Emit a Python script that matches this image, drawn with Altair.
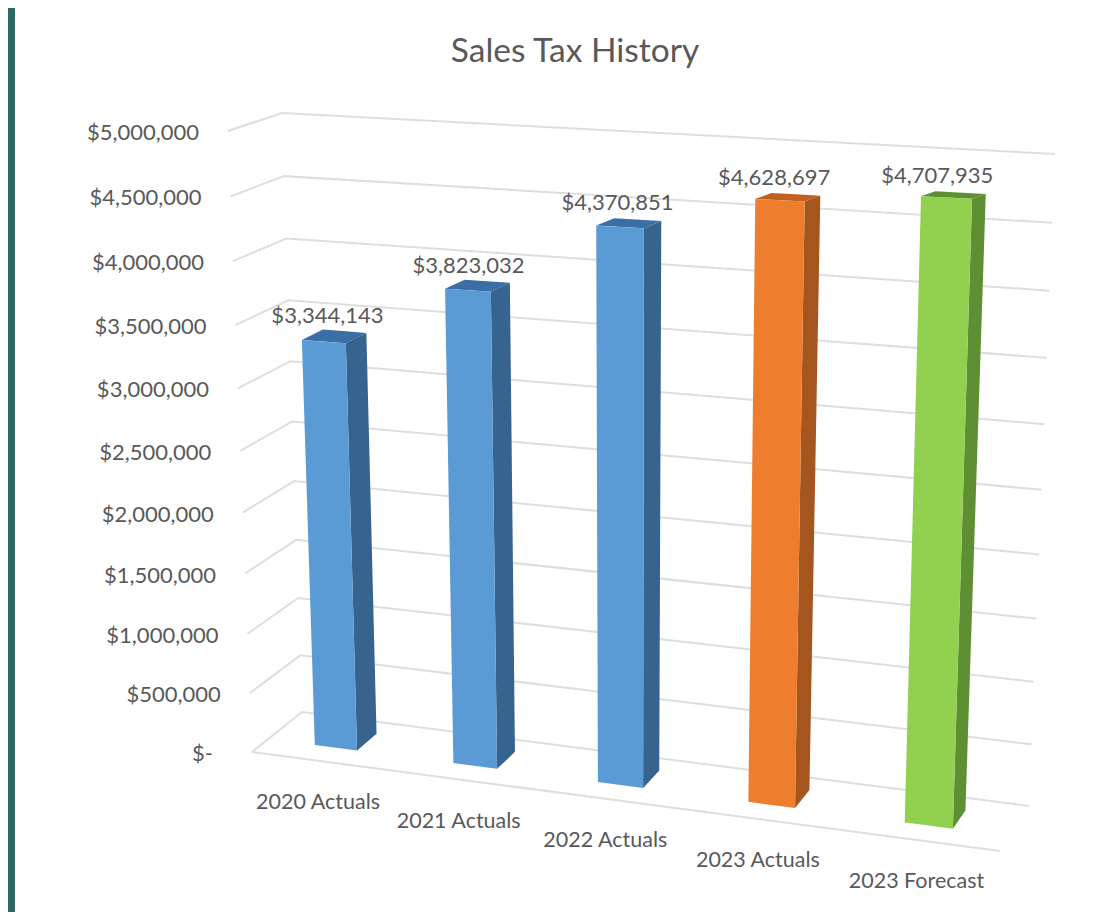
import altair as alt
import pandas as pd

categories = ["2020 Actuals", "2021 Actuals", "2022 Actuals", "2023 Actuals", "2023 Forecast"]
values = [3344143, 3823032, 4370851, 4628697, 4707935]
labels = ["$3,344,143", "$3,823,032", "$4,370,851", "$4,628,697", "$4,707,935"]
front_colors = ["#5B9BD5", "#5B9BD5", "#5B9BD5", "#EE7E2E", "#92D14F"]
side_colors = ["#36648F", "#36648F", "#36648F", "#A5551E", "#5F8F33"]
top_colors = ["#3A6FA5", "#3A6FA5", "#3A6FA5", "#C4601F", "#5F8F33"]
tick_values = [0, 500000, 1000000, 1500000, 2000000, 2500000, 3000000, 3500000, 4000000, 4500000, 5000000]
tick_labels = ["$-", "$500,000", "$1,000,000", "$1,500,000", "$2,000,000", "$2,500,000",
               "$3,000,000", "$3,500,000", "$4,000,000", "$4,500,000", "$5,000,000"]
VMAX = 5000000

# Corners of the perspective box: (across, depth) -> page position at value 0 and at the axis maximum
C0 = {"fl": (252, 752), "fr": (1000, 851), "bl": (302, 712), "br": (1029, 806)}
C1 = {"fl": (228, 131), "fr": (1023, 163), "bl": (282, 113), "br": (1055, 154)}
W, H = 1099, 904


def warp(t, k):
    return t - k * t * (1 - t)


def project(u, w, v):
    f = warp(v / VMAX, 0.06)
    out = []
    for a in (0, 1):
        p = [
            (1 - w) * ((1 - u) * C["fl"][a] + u * C["fr"][a]) + w * ((1 - u) * C["bl"][a] + u * C["br"][a])
            for C in (C0, C1)
        ]
        out.append(p[0] + f * (p[1] - p[0]))
    return out


def polygon_rows(points, face, color):
    """Turn a convex polygon into rows of an area mark (x, lower y, upper y)."""
    xs = sorted({p[0] for p in points})
    n = len(points)
    rows = []
    for x in xs:
        ys = []
        for i in range(n):
            a, b = points[i], points[(i + 1) % n]
            lo, hi = min(a[0], b[0]), max(a[0], b[0])
            if lo <= x <= hi:
                if a[0] == b[0]:
                    ys += [a[1], b[1]]
                else:
                    ys.append(a[1] + (x - a[0]) / (b[0] - a[0]) * (b[1] - a[1]))
        rows.append({"x": x, "y": min(ys), "y2": max(ys), "face": face, "color": color})
    return rows


X = alt.Scale(domain=[8, 8 + W], range=[0, W], nice=False, zero=False)
Y = alt.Scale(domain=[8, 8 + H], range=[0, H], nice=False, zero=False)
xq = alt.X("x:Q", scale=X, axis=None)
yq = alt.Y("y:Q", scale=Y, axis=None)

# Gridlines
grid = []
for v in tick_values:
    for k, (u, w) in enumerate([(0, 0), (0, 1), (1, 1)]):
        x, y = project(u, w, v)
        grid.append({"x": x, "y": y, "line": f"v{v}", "k": k})
for k, (u, w) in enumerate([(0, 0), (1, 0)]):
    x, y = project(u, w, 0)
    grid.append({"x": x, "y": y, "line": "front", "k": k})
grid_layer = alt.Chart(pd.DataFrame(grid)).mark_line(color="#DEDEDE", strokeWidth=2).encode(
    x=xq, y=yq, detail="line:N", order="k:Q"
)

# Bars
layers = []
W_FRONT, W_BACK = 0.33, 0.74
bar_labels = []
cat_labels = []
for i, (cat, val) in enumerate(zip(categories, values)):
    t = (i + 0.5) / len(categories)
    c = warp(t, 0.1)
    half = 0.028 + 0.005 * t
    u0, u1 = c - half, c + half
    fl0, fr0 = project(u0, W_FRONT, 0), project(u1, W_FRONT, 0)
    fl1, fr1 = project(u0, W_FRONT, val), project(u1, W_FRONT, val)
    br0, br1 = project(u1, W_BACK, 0), project(u1, W_BACK, val)
    bl1 = project(u0, W_BACK, val)
    faces = [
        ([fl1, fr1, br1, bl1], f"t{i}", top_colors[i]),
        ([fr1, br1, br0, fr0], f"s{i}", side_colors[i]),
        ([fl1, fr1, fr0, fl0], f"f{i}", front_colors[i]),
    ]
    for pts, face, color in faces:
        df = pd.DataFrame(polygon_rows(pts, face, color))
        layers.append(
            alt.Chart(df).mark_area(color=color, line=False, opacity=1).encode(
                x=xq, y=yq, y2="y2:Q"
            )
        )
    mid = project(c, W_FRONT, val)
    bar_labels.append({"x": mid[0] + 5 - 16 * c, "y": mid[1] - 26 + 5 * c, "t": labels[i]})
    foot = project(c, 0, 0)
    cat_labels.append({"x": foot[0] - 2, "y": foot[1] + 42, "t": cat})

FONT = "Lato"
GREY = "#595959"


def text_layer(rows, size, align="center"):
    return alt.Chart(pd.DataFrame(rows)).mark_text(
        font=FONT, fontSize=size, color=GREY, align=align, baseline="middle"
    ).encode(x=xq, y=yq, text="t:N")


ticks = []
zero_tick = []
for v, lab in zip(tick_values, tick_labels):
    x, y = project(0, 0, v)
    if v == 0:
        zero_tick.append({"x": x - 39, "y": y + 2, "t": lab})
    else:
        ticks.append({"x": x - 29, "y": y + 2, "t": lab})

title_layer = text_layer([{"x": 575, "y": 52, "t": "Sales Tax History"}], 33.5)

strip = alt.Chart(pd.DataFrame({"a": [0]})).mark_rect(color="#2E6866").encode(
    x=alt.value(0), x2=alt.value(7), y=alt.value(0), y2=alt.value(H)
)

chart = alt.layer(
    strip,
    grid_layer,
    *layers,
    text_layer(ticks, 22, "right"),
    text_layer(zero_tick, 22, "right"),
    text_layer(bar_labels, 22),
    text_layer(cat_labels, 21.5),
    title_layer,
).properties(width=W, height=H, padding=0, autosize=alt.AutoSizeParams(type="none")).configure_view(stroke=None)

chart.save("out.html", embed_options={"renderer": "svg", "actions": False})
